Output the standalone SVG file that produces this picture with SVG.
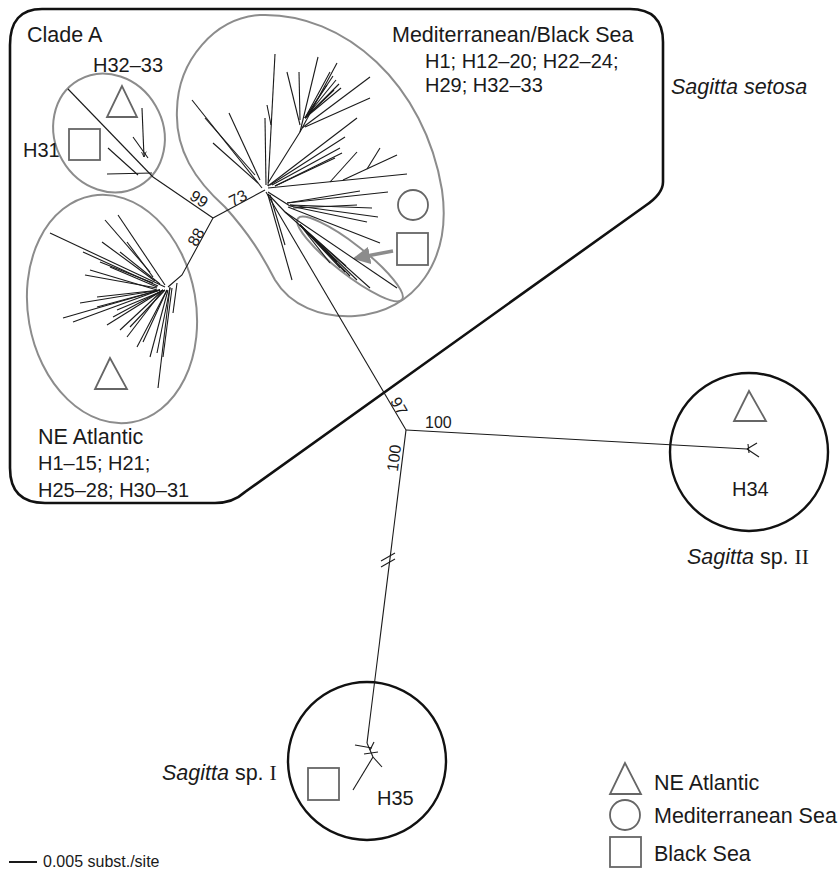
<svg xmlns="http://www.w3.org/2000/svg" width="840" height="870" viewBox="0 0 840 870">
<style>
text{font-family:"Liberation Sans",Arial,sans-serif;fill:#1a1a1a}
.t{font-size:21.5px}
.s{font-size:20px}
.b{font-size:16px}
.it{font-style:italic}
.rom{font-family:"Liberation Serif","Times New Roman",serif}
.box{fill:none;stroke:#111;stroke-width:2.6}
.clade{fill:none;stroke:#8c8c8c;stroke-width:2}
.sym{fill:none;stroke:#666;stroke-width:1.8}
.br line,.br path{stroke:#1a1a1a;stroke-width:1.1;fill:none}
</style>
<defs>
<marker id="ah" viewBox="0 0 10 10" refX="9" refY="5" markerWidth="6" markerHeight="6" orient="auto" markerUnits="userSpaceOnUse"><path d="M0,1 L9,5 L0,9" fill="none" stroke="#1a1a1a" stroke-width="1.4"/></marker>
<marker id="gah" viewBox="0 0 10 10" refX="8" refY="5" markerWidth="5" markerHeight="5" orient="auto"><path d="M0,0 L10,5 L0,10 z" fill="#8c8c8c"/></marker>
</defs>
<rect width="840" height="870" fill="#fff"/>

<g id="sagitta-setosa-box">
<path class="box" d="M42,9 L630,9 Q663,9 663,42 L663,182 Q663,194 645,206 L245,492 Q233,503 215,503 L45,503 Q10,503 10,468 L10,45 Q10,9 42,9 Z"/>
<text class="t" x="27" y="42">Clade A</text>
<text class="t it" x="671" y="94">Sagitta setosa</text>
</g>

<g id="clade-h31">
<ellipse class="clade" cx="109" cy="133" rx="54" ry="61" transform="rotate(-30 109 133)"/>
<rect class="sym" x="69" y="129" width="31" height="31"/>
<polygon class="sym" points="122,86 107,117 137,117"/>
<text class="s" x="93" y="72">H32–33</text>
<text class="s" x="23" y="157">H31</text>
<line x1="142" y1="108" x2="144" y2="157" stroke="#1a1a1a" stroke-width="1.1" marker-end="url(#ah)"/>
</g>

<g id="clade-ne-atlantic">
<ellipse class="clade" cx="112" cy="309" rx="84" ry="115" transform="rotate(-10 112 309)"/>
<polygon class="sym" points="110,358 95,389 127,389"/>
<text class="t" x="38" y="444">NE Atlantic</text>
<text class="s" x="38" y="470">H1–15; H21;</text>
<text class="s" x="38" y="497">H25–28; H30–31</text>
</g>

<g id="clade-med">
<path class="clade" d="M260,15 C345,12 425,85 442,190 C452,260 415,312 355,316 C320,318 290,305 275,280 C262,255 250,235 225,207 C195,180 175,150 177,110 C178,60 215,18 260,15 Z"/>
<ellipse class="clade" cx="350" cy="259" rx="66" ry="15" transform="rotate(38 350 259)"/>
<circle class="sym" cx="413" cy="205" r="15"/>
<rect class="sym" x="397" y="233" width="31" height="32"/>
<line x1="393" y1="251" x2="356" y2="258" stroke="#8c8c8c" stroke-width="3.5" marker-end="url(#gah)"/>
<text class="t" x="392" y="42">Mediterranean/Black Sea</text>
<text class="s" x="425" y="68">H1; H12–20; H22–24;</text>
<text class="s" x="425" y="92">H29; H32–33</text>
</g>

<g id="sagitta-sp2">
<circle cx="749" cy="452" r="79" fill="none" stroke="#111" stroke-width="2.4"/>
<polygon class="sym" points="749,391 734,421 766,421"/>
<text class="s" x="732" y="496">H34</text>
<text class="t" x="687" y="564"><tspan class="it">Sagitta</tspan> sp. <tspan class="rom">II</tspan></text>
</g>

<g id="sagitta-sp1">
<circle cx="367" cy="761" r="79" fill="none" stroke="#111" stroke-width="2.4"/>
<rect class="sym" x="308" y="768" width="31" height="32"/>
<text class="s" x="377" y="805">H35</text>
<text class="t" x="162" y="780"><tspan class="it">Sagitta</tspan> sp. <tspan class="rom">I</tspan></text>
</g>

<g id="connectors" class="br">
<!-- clade A backbone -->
<line x1="213" y1="218" x2="153" y2="177"/>
<path d="M213,218 L182,275 L168,287"/>
<line x1="213" y1="218" x2="265" y2="190"/>
<line x1="266" y1="192" x2="406" y2="430"/>
<line x1="406" y1="430" x2="747" y2="449"/>
<line x1="406" y1="430" x2="367" y2="743"/>
<line x1="381" y1="561" x2="395" y2="553"/>
<line x1="381" y1="567" x2="395" y2="559"/>
<!-- H31 clade -->
<line x1="68" y1="89" x2="153" y2="177"/>
<line x1="108" y1="148" x2="138" y2="175"/>
<line x1="107" y1="174" x2="152" y2="173"/>
<line x1="133" y1="137" x2="148" y2="158"/>
<!-- NE Atlantic fan -->
<line x1="165" y1="287" x2="50" y2="233"/>
<line x1="150" y1="272" x2="105" y2="220"/>
<line x1="165" y1="285" x2="118" y2="215"/>
<line x1="158" y1="286" x2="83" y2="252"/>
<line x1="155" y1="281" x2="102" y2="242"/>
<line x1="153" y1="277" x2="127" y2="242"/>
<line x1="157" y1="290" x2="90" y2="270"/>
<line x1="157" y1="288" x2="85" y2="275"/>
<line x1="160" y1="290" x2="97" y2="297"/>
<line x1="153" y1="283" x2="100" y2="262"/>
<line x1="157" y1="287" x2="110" y2="267"/>
<line x1="160" y1="284" x2="120" y2="252"/>
<line x1="160" y1="290" x2="63" y2="318"/>
<line x1="160" y1="290" x2="73" y2="322"/>
<line x1="160" y1="290" x2="80" y2="303"/>
<line x1="160" y1="290" x2="97" y2="307"/>
<line x1="163" y1="290" x2="107" y2="325"/>
<line x1="163" y1="290" x2="113" y2="317"/>
<line x1="163" y1="290" x2="120" y2="330"/>
<line x1="163" y1="290" x2="127" y2="337"/>
<line x1="167" y1="290" x2="137" y2="347"/>
<line x1="167" y1="290" x2="143" y2="342"/>
<line x1="168" y1="290" x2="150" y2="357"/>
<line x1="170" y1="288" x2="157" y2="353"/>
<line x1="172" y1="288" x2="163" y2="357"/>
<line x1="170" y1="287" x2="158" y2="388"/>
<line x1="177" y1="283" x2="173" y2="313"/>
<line x1="165" y1="290" x2="130" y2="327"/>
<line x1="165" y1="290" x2="117" y2="310"/>
<!-- Med / Black Sea tree -->
<line x1="268" y1="186" x2="275" y2="54"/>
<line x1="266" y1="185" x2="265" y2="118"/>
<line x1="267" y1="105" x2="271" y2="125"/>
<line x1="262" y1="188" x2="192" y2="100"/>
<line x1="258" y1="183" x2="213" y2="143"/>
<line x1="260" y1="180" x2="229" y2="113"/>
<line x1="255" y1="175" x2="205" y2="118"/>
<line x1="268" y1="183" x2="300" y2="132"/>
<line x1="300" y1="132" x2="318" y2="57"/>
<line x1="300" y1="125" x2="287" y2="72"/>
<line x1="300" y1="120" x2="299" y2="72"/>
<line x1="300" y1="132" x2="337" y2="63"/>
<line x1="302" y1="128" x2="370" y2="77"/>
<line x1="305" y1="127" x2="370" y2="98"/>
<line x1="305" y1="118" x2="330" y2="72"/>
<line x1="305" y1="118" x2="333" y2="76"/>
<line x1="305" y1="118" x2="336" y2="80"/>
<line x1="305" y1="118" x2="339" y2="84"/>
<line x1="305" y1="118" x2="341" y2="88"/>
<line x1="305" y1="118" x2="334" y2="90"/>
<line x1="305" y1="118" x2="327" y2="85"/>
<line x1="268" y1="186" x2="357" y2="118"/>
<line x1="270" y1="185" x2="345" y2="137"/>
<line x1="272" y1="185" x2="340" y2="148"/>
<line x1="275" y1="186" x2="342" y2="153"/>
<line x1="275" y1="186" x2="335" y2="158"/>
<line x1="268" y1="188" x2="407" y2="174"/>
<line x1="330" y1="182" x2="357" y2="152"/>
<line x1="343" y1="180" x2="397" y2="155"/>
<line x1="367" y1="169" x2="380" y2="148"/>
<line x1="268" y1="192" x2="290" y2="206"/>
<line x1="287" y1="203" x2="360" y2="191"/>
<line x1="287" y1="203" x2="388" y2="192"/>
<line x1="290" y1="205" x2="378" y2="217"/>
<line x1="290" y1="206" x2="367" y2="222"/>
<line x1="288" y1="207" x2="380" y2="243"/>
<line x1="293" y1="208" x2="357" y2="205"/>
<line x1="290" y1="205" x2="372" y2="208"/>
<line x1="268" y1="194" x2="285" y2="212"/>
<line x1="285" y1="212" x2="370" y2="288"/>
<line x1="285" y1="212" x2="397" y2="288"/>
<line x1="300" y1="225" x2="333" y2="258"/>
<line x1="300" y1="225" x2="337" y2="262"/>
<line x1="300" y1="225" x2="340" y2="268"/>
<line x1="300" y1="225" x2="345" y2="272"/>
<line x1="300" y1="225" x2="350" y2="276"/>
<line x1="300" y1="225" x2="357" y2="280"/>
<line x1="300" y1="225" x2="346" y2="266"/>
<line x1="300" y1="225" x2="330" y2="263"/>
<line x1="268" y1="195" x2="292" y2="280"/>
<line x1="270" y1="195" x2="285" y2="245"/>
<!-- H34 fork -->
<line x1="747" y1="449" x2="757" y2="443"/>
<line x1="747" y1="449" x2="759" y2="457"/>
<line x1="748" y1="444" x2="749" y2="453"/>
<!-- H35 twig -->
<line x1="355" y1="745" x2="372" y2="748"/>
<line x1="364" y1="754" x2="378" y2="752"/>
<line x1="367" y1="743" x2="373" y2="757"/>
<line x1="373" y1="757" x2="353" y2="790"/>
<line x1="373" y1="757" x2="382" y2="767"/>
<line x1="370" y1="750" x2="374" y2="742"/>
</g>

<g id="support-labels">
<text class="b" x="199" y="199" text-anchor="middle" dominant-baseline="central" transform="rotate(34 199 199)">99</text>
<text class="b" x="196" y="237" text-anchor="middle" dominant-baseline="central" transform="rotate(-61 196 237)">88</text>
<text class="b" x="238" y="198" text-anchor="middle" dominant-baseline="central" transform="rotate(-27 238 198)">73</text>
<text class="b" x="399" y="406" text-anchor="middle" dominant-baseline="central" transform="rotate(61 399 406)">97</text>
<text class="b" x="425" y="428">100</text>
<text class="b" x="394" y="458" text-anchor="middle" dominant-baseline="central" transform="rotate(-83 394 458)">100</text>
</g>

<g id="legend">
<polygon class="sym" points="625,763 610,794 641,794" stroke="#555"/>
<circle class="sym" cx="625" cy="815" r="15" stroke="#555"/>
<rect class="sym" x="610" y="837" width="31" height="30" stroke="#555"/>
<text class="t" x="654" y="790">NE Atlantic</text>
<text class="t" x="654" y="823">Mediterranean Sea</text>
<text class="t" x="654" y="861">Black Sea</text>
</g>

<g id="scale-bar">
<line x1="9" y1="862" x2="37" y2="862" stroke="#1a1a1a" stroke-width="2"/>
<text class="b" x="43" y="867">0.005 subst./site</text>
</g>
</svg>
